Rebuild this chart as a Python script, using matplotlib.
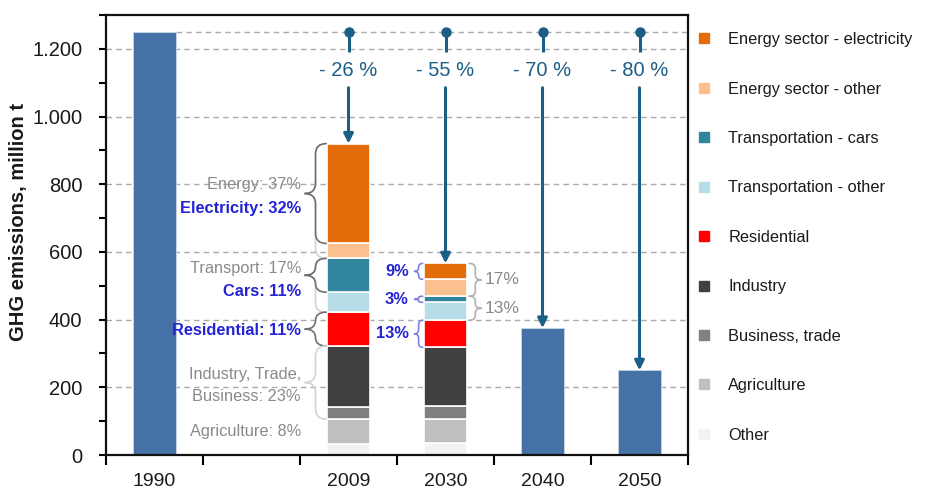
import matplotlib
matplotlib.use("Agg")
import matplotlib.pyplot as plt
from matplotlib.path import Path
from matplotlib.patches import PathPatch
from matplotlib.lines import Line2D
from matplotlib.ticker import MultipleLocator, FixedLocator, FuncFormatter
import numpy as np

plt.rcParams['font.family'] = ['Liberation Sans', 'DejaVu Sans']

# ---------------- data ----------------
years = ['1990', '', '2009', '2030', '2040', '2050']
total_years = ['1990', '2040', '2050']
total_values = [1250, 375, 250]

sectors = ['Energy sector - electricity', 'Energy sector - other',
           'Transportation - cars', 'Transportation - other', 'Residential',
           'Industry', 'Business, trade', 'Agriculture', 'Other']
sector_colors = ['#E46C0A', '#FAC090', '#31859C', '#B7DEE8', '#FF0000',
                 '#404040', '#808080', '#BFBFBF', '#F2F2F2']
values_2009 = [295, 44, 100, 59, 100, 180, 36, 74, 32]
values_2030 = [47, 50, 18, 53, 80, 174, 38, 71, 35]

reduction_years = ['2009', '2030', '2040', '2050']
reduction_labels = ['- 26 %', '- 55 %', '- 70 %', '- 80 %']
baseline = 1250

labels_2009 = ['Energy: 37%', 'Electricity: 32%', 'Transport: 17%', 'Cars: 11%',
               'Residential: 11%', 'Industry, Trade,', 'Business: 23%',
               'Agriculture: 8%']
labels_2009_blue = [False, True, False, True, True, False, False, False]
labels_2009_y = [800, 729, 552, 484, 369, 239, 174, 68]

labels_2030_left = ['9%', '3%', '13%']
labels_2030_right = ['17%', '13%']

# ---------------- style ----------------
BLUE_BAR = '#4571A7'
ARROW = '#1B5E86'
GRAY_TXT = '#8A8A8A'
BLUE_TXT = '#2424D4'
BRACE_DARK = '#707070'
BRACE_LIGHT = '#D4D4D4'
BRACE_BLUE = '#8080E0'
GRID = '#ABABAB'
W = 0.45

fig = plt.figure(figsize=(9.25, 4.9), dpi=100)
ax = fig.add_axes([106/925, 1-455/490, (688-106)/925, (455-15)/490])

xpos = {y: i for i, y in enumerate(years)}

# grid
for g in range(200, 1201, 200):
    ax.axhline(g, color=GRID, lw=1.0, ls=(0, (4, 3)), zorder=0)
# baseline line from 1990 bar to right
ax.plot([xpos['1990'] + W/2, 5.5], [baseline, baseline], color=GRID,
        lw=1.0, ls=(0, (4, 3)), zorder=0)

# blue total bars
ax.bar([xpos[y] for y in total_years], total_values, width=W, color=BLUE_BAR,
       edgecolor='#C9D6E8', linewidth=0.6, zorder=2)

# stacked bars
def stacked(x, vals):
    b = 0
    for v, c in zip(vals[::-1], sector_colors[::-1]):
        ax.bar(x, v, bottom=b, width=W, color=c, edgecolor='white',
               linewidth=1.2, zorder=2)
        b += v
    bounds = []
    cum = np.cumsum(vals[::-1])
    starts = np.concatenate([[0], cum[:-1]])
    for s, e in zip(starts[::-1], cum[::-1]):
        bounds.append((s, e))
    return bounds

b09 = stacked(xpos['2009'], values_2009)
b30 = stacked(xpos['2030'], values_2030)

# arrows
for yr, lab in zip(reduction_years, reduction_labels):
    x = xpos[yr]
    top = total_values[total_years.index(yr)] if yr in total_years else \
        (sum(values_2009) if yr == '2009' else sum(values_2030))
    ax.plot([x, x], [baseline, 1192], color=ARROW, lw=2.2, zorder=4,
            solid_capstyle='butt')
    ax.plot(x, baseline, 'o', color=ARROW, ms=6.5, zorder=5)
    ax.text(x, 1137, lab, ha='center', va='center', fontsize=14.5,
            color=ARROW, zorder=5)
    ax.annotate('', xy=(x, top), xytext=(x, 1085),
                arrowprops=dict(arrowstyle='-|>', color=ARROW, lw=2.2,
                                mutation_scale=14, shrinkA=0, shrinkB=0),
                zorder=5)

# braces
def brace(xb, xt, y0, y1, ytip, color, lw=1.2, r=30):
    xm = (xb + xt) / 2
    r = min(r, (y1 - y0) / 4, (y1 - ytip) / 2, (ytip - y0) / 2)
    verts = [(xb, y1), (xm, y1), (xm, y1 - r), (xm, ytip + r), (xm, ytip),
             (xt, ytip), (xm, ytip), (xm, ytip - r), (xm, y0 + r), (xm, y0),
             (xb, y0)]
    codes = [Path.MOVETO, Path.CURVE3, Path.CURVE3, Path.LINETO, Path.CURVE3,
             Path.CURVE3, Path.CURVE3, Path.CURVE3, Path.LINETO, Path.CURVE3,
             Path.CURVE3]
    ax.add_patch(PathPatch(Path(verts, codes), fc='none', ec=color, lw=lw,
                           zorder=3, capstyle='round', joinstyle='round'))

# 2009 braces (left)
xb09, xt09 = 1.77, 1.55
e_tip = (b09[0][0] + b09[0][1]) / 2
brace(xb09, xt09, b09[1][0], b09[0][1], e_tip, BRACE_LIGHT)
brace(xb09, xt09, b09[0][0], b09[0][1], e_tip, BRACE_DARK)
c_tip = (b09[2][0] + b09[2][1]) / 2
brace(xb09, xt09, b09[3][0], b09[2][1], c_tip, BRACE_LIGHT)
brace(xb09, xt09, b09[2][0], b09[2][1], c_tip, BRACE_DARK)
brace(xb09, xt09, b09[4][0], b09[4][1], sum(b09[4]) / 2, BRACE_DARK)
brace(xb09, xt09, b09[6][0], b09[5][1], (b09[6][0] + b09[5][1]) / 2, BRACE_LIGHT)

for lab, blue, yy in zip(labels_2009, labels_2009_blue, labels_2009_y):
    ax.text(1.51, yy, lab, ha='right', va='center', fontsize=11.8,
            fontweight='bold' if blue else 'normal',
            color=BLUE_TXT if blue else GRAY_TXT, zorder=3)

# 2030 braces left (blue)
xb30, xt30 = 2.765, 2.68
for idx, lab in zip([0, 2, 4], labels_2030_left):
    y0, y1 = b30[idx]
    tip = (y0 + y1) / 2
    brace(xb30, xt30, y0, y1, tip, BRACE_BLUE, r=14)
    ax.text(2.62, tip, lab, ha='right', va='center', fontsize=11.8,
            fontweight='bold', color=BLUE_TXT, zorder=3)

# 2030 braces right (gray)
xb30r, xt30r = 3.245, 3.37
for (i0, i1), lab in zip([(1, 0), (3, 2)], labels_2030_right):
    y0, y1 = b30[i0][0], b30[i1][1]
    tip = (y0 + y1) / 2
    brace(xb30r, xt30r, y0, y1, tip, '#B0B0B0', r=14)
    ax.text(3.40, tip, lab, ha='left', va='center', fontsize=12.5,
            color=GRAY_TXT, zorder=3)

# axes
ax.set_xlim(-0.5, 5.5)
ax.set_ylim(0, 1300)
ax.set_xticks(range(len(years)))
ax.set_xticklabels(years)
ax.xaxis.set_minor_locator(FixedLocator(np.arange(-0.5, 5.6, 1.0)))
ax.tick_params(axis='x', which='major', length=0, pad=13, labelsize=14,
               labelcolor='#1A1A1A')
ax.tick_params(axis='x', which='minor', length=7, width=1.5, direction='out')
ax.yaxis.set_major_locator(MultipleLocator(200))
ax.yaxis.set_minor_locator(MultipleLocator(100))
ax.yaxis.set_major_formatter(FuncFormatter(lambda v, p: f"{int(v):,}".replace(',', '.')))
ax.tick_params(axis='y', which='both', length=5, width=1.5, direction='out',
               pad=12, labelsize=14.5, labelcolor='#1A1A1A')
for s in ax.spines.values():
    s.set_linewidth(1.6)
    s.set_color('#111111')
ax.set_ylabel('GHG emissions, million t', fontsize=14.5, fontweight='bold',
              color='#1A1A1A')
ax.yaxis.set_label_coords(-0.134, 0.53)

# legend
handles = [Line2D([], [], marker='s', ls='', color=c, ms=7) for c in sector_colors]
fig.legend(handles, sectors, loc='upper left',
           bbox_to_anchor=(688/925, 1-24/490), frameon=False, borderpad=0,
           handlelength=1.0, handletextpad=0.95, labelspacing=2.1,
           fontsize=11.8, labelcolor='#1A1A1A')

fig.savefig('out.png', dpi=100)
